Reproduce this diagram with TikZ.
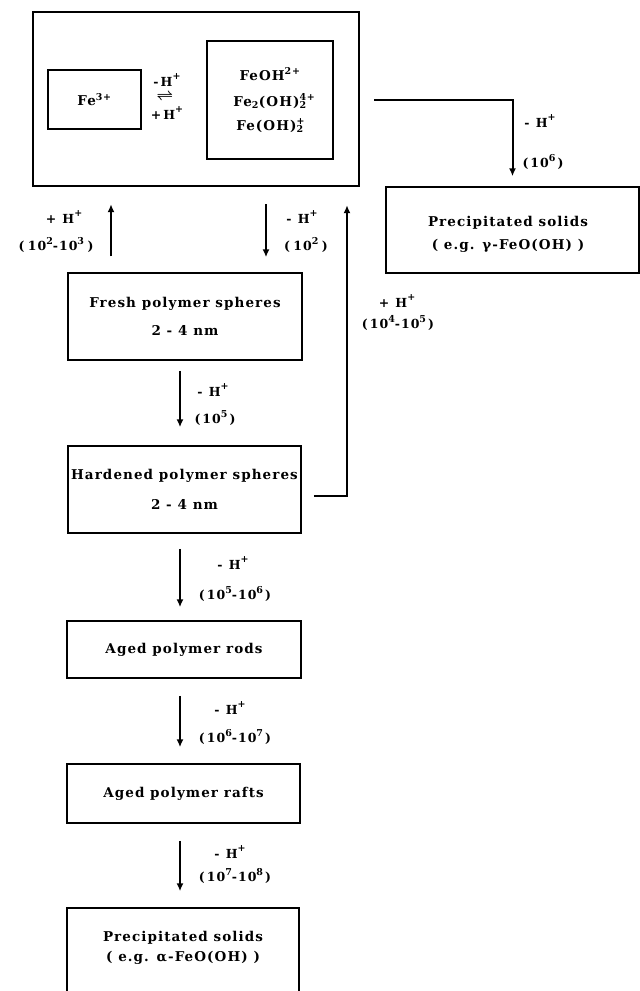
\documentclass[tikz,border=0pt]{standalone}
\usepackage{fontspec}
\setmainfont{DejaVu Serif}[LetterSpace=8]
\usetikzlibrary{arrows.meta,calc}
\newcommand\ssb[2]{\rlap{\textsuperscript{#1}}\textsubscript{#2}}
\newcommand\sps[1]{\raisebox{0.5em}{\fontsize{9.5}{9.5}\selectfont #1}}
\begin{document}
\begin{tikzpicture}[x=1pt,y=-1pt,
  box/.style={draw, line width=1.5pt, inner sep=0pt, align=center, font=\fontsize{13.5}{16}\selectfont\bfseries},
  outerbox/.style={draw, line width=2.4pt, inner sep=0pt},
  txt/.style={inner sep=0pt, align=center, font=\fontsize{13.5}{16}\selectfont\bfseries},
  arr/.style={line width=2pt, -{Latex[length=8pt,width=7pt]}},
  lbl/.style={inner sep=0pt, font=\fontsize{12.5}{14}\selectfont\bfseries},
]
\useasboundingbox (0,0) rectangle (640,991);
\clip (0,0) rectangle (640,991);
% top group
\node[outerbox, minimum width=326, minimum height=174] (outer) at (196,99) {};
\node[box, minimum width=93, minimum height=59] (fe) at (94.5,99.5) {Fe\textsuperscript{3+}};
\node[lbl] (eqm) at (167,80) {-\,H\sps{+}};
\node[inner sep=0pt, font=\Large\boldmath] (eq) at (165,97) {$\rightleftharpoons$};
\node[lbl] (eqp) at (167,113) {+\,H\sps{+}};
\node[box, minimum width=126, minimum height=118] (spec) at (270,100)
  {FeOH\textsuperscript{2+}\\[10pt]Fe\textsubscript{2}(OH)\ssb{4+}{2}\\[8pt]Fe(OH)\ssb{+}{2}};
% right precipitate
\node[box, minimum width=253, minimum height=86] (solidsG) at (512.5,230) {};
\node[txt] (solidsGt) at (508,234) {Precipitated solids\\[7pt]( e.g. γ-FeO(OH) )};
% chain
\node[box, minimum width=234, minimum height=87] (fresh) at (185,316.5)
  {Fresh polymer spheres\\[12pt]2 - 4 nm};
\node[box, minimum width=233, minimum height=87] (hard) at (184.5,489.5)
  {Hardened polymer spheres\\[14pt]2 - 4 nm};
\node[box, minimum width=234, minimum height=57] (rods) at (184,649.5) {Aged polymer rods};
\node[box, minimum width=233, minimum height=59] (rafts) at (183.5,793.5) {Aged polymer rafts};
\node[box, minimum width=232, minimum height=92] (solidsA) at (183,954) {};
\node[txt] (solidsAt) at (183,948) {Precipitated solids\\[4pt]( e.g. α-FeO(OH) )};
% columns
\coordinate (cL) at (111,0);
\coordinate (cM) at (266,0);
\coordinate (cR) at (347,0);
\coordinate (cC) at (180,0);
% arrows
\draw[arr] ($(outer.east)+(14,1)$) -| ($(solidsG.north)+(0,-10)$);
\draw[arr] ($(fresh.north -| cL)+(0,-16)$) -- ($(outer.south -| cL)+(0,17)$);
\draw[arr] ($(outer.south -| cM)+(0,17)$) -- ($(fresh.north -| cM)+(0,-15)$);
\draw[arr] ($(hard.east)+(12,6)$) -| ($(outer.south -| cR)+(0,18)$);
\draw[arr] ($(fresh.south -| cC)+(0,10)$) -- ($(hard.north -| cC)+(0,-18)$);
\draw[arr] ($(hard.south -| cC)+(0,15)$) -- ($(rods.north -| cC)+(0,-13)$);
\draw[arr] ($(rods.south -| cC)+(0,17)$) -- ($(rafts.north -| cC)+(0,-16)$);
\draw[arr] ($(rafts.south -| cC)+(0,17)$) -- ($(solidsA.north -| cC)+(0,-16)$);
% labels
\node[lbl] at (540,121) {-\enspace H\sps{+}};
\node[lbl] at (543,162) {(\,10\sps{6}\,)};
\node[lbl] at (64,217) {+\enspace H\sps{+}};
\node[lbl] at (56,245) {(\;10\sps{2}-10\sps{3}\;)};
\node[lbl] at (302,217) {-\enspace H\sps{+}};
\node[lbl] at (306,245) {(\;10\sps{2}\;)};
\node[lbl] at (397,301) {+\enspace H\sps{+}};
\node[lbl] at (398,323) {(\,10\sps{4}-10\sps{5}\,)};
\node[lbl] at (213,390) {-\enspace H\sps{+}};
\node[lbl] at (215,418) {(\,10\sps{5}\,)};
\node[lbl] at (233,563) {-\enspace H\sps{+}};
\node[lbl] at (235,594) {(\,10\sps{5}-10\sps{6}\,)};
\node[lbl] at (230,708) {-\enspace H\sps{+}};
\node[lbl] at (235,737) {(\,10\sps{6}-10\sps{7}\,)};
\node[lbl] at (230,852) {-\enspace H\sps{+}};
\node[lbl] at (235,876) {(\,10\sps{7}-10\sps{8}\,)};
\end{tikzpicture}
\end{document}
